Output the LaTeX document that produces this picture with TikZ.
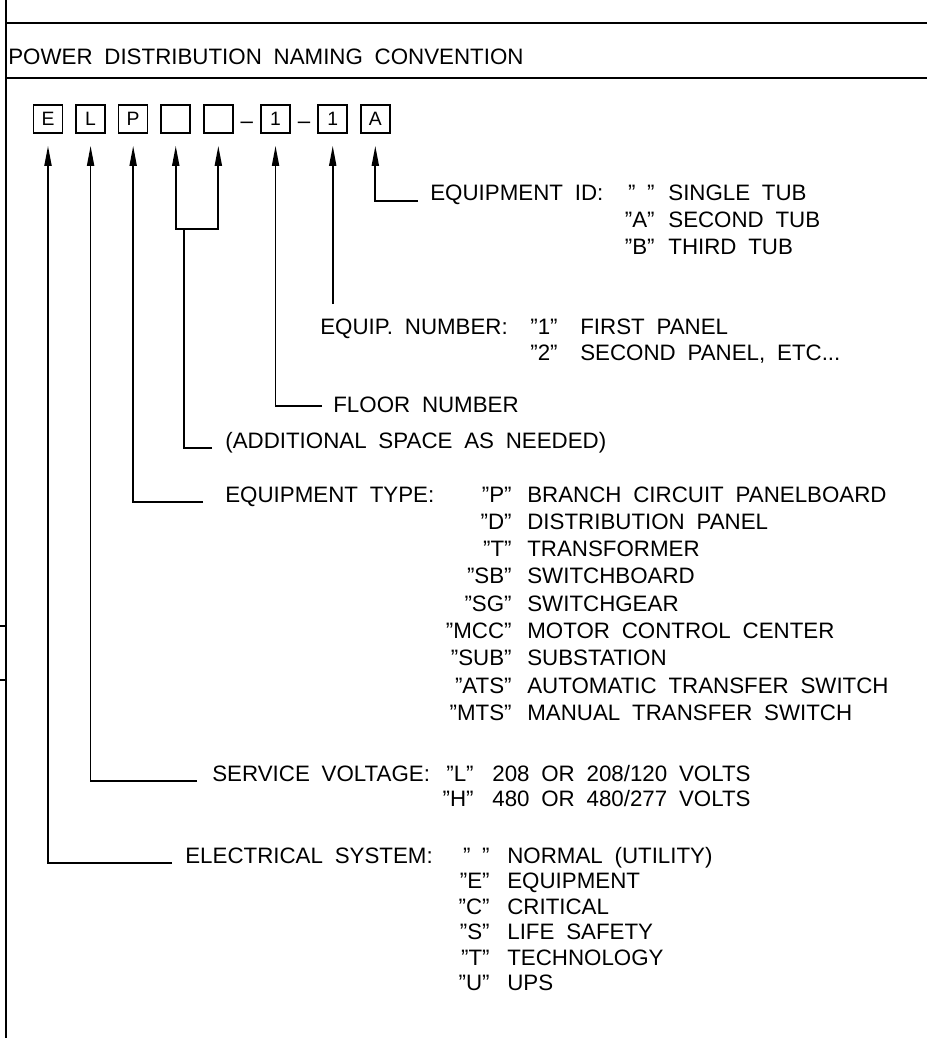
\documentclass[tikz,border=0pt]{standalone}
\usepackage{fontspec}
\setmainfont{Liberation Sans}[WordSpace=1.9]
\usetikzlibrary{positioning, arrows.meta}

\begin{document}
\begin{tikzpicture}[
    x=0.2mm, y=-0.2mm,
    >={Triangle[length=4mm, width=1.4mm]},
    node distance=2.4mm,
    % sheet border lines
    frame/.style={line width=1.3pt},
    % letter boxes of the name
    codebox/.style={rectangle, draw, line width=0.9pt, minimum width=5.8mm, minimum height=5.6mm, inner sep=0pt, font=\fontsize{11}{13}\selectfont},
    % dash between boxes
    dashnode/.style={inner sep=0pt, yshift=-1.2mm},
    % labels and list entries
    lbl/.style={anchor=base west, inner sep=0pt},
    code/.style={anchor=base east, inner sep=0pt},
    desc/.style={anchor=base west, inner sep=0pt},
    % leader lines
    arr/.style={->, line width=1pt, shorten >=2.4mm},
    lead/.style={line width=1pt},
    every node/.style={font=\fontsize{12.7}{15}\selectfont},
]
\useasboundingbox (0,0) rectangle (927,1038);

% --- sheet border ---
\draw[frame] (6,0) -- (6,1038);
\draw[frame] (6,23) -- (927,23);
\draw[frame] (6,78) -- (927,78);
\draw[frame] (0,626) -- (6,626);
\draw[frame] (0,680) -- (6,680);

\node[lbl] (title) at (8,65) {POWER DISTRIBUTION NAMING CONVENTION};

% --- name boxes ---
\node[codebox] (bE) at (48,119) {E};
\node[codebox, right=of bE] (bL) {L};
\node[codebox, right=of bL] (bP) {P};
\node[codebox, right=of bP] (bX) {};
\node[codebox, right=of bX] (bY) {};
\node[dashnode, right=1.35mm of bY] (d1) {–};
\node[codebox, right=1.35mm of bY.east -| d1.east] (bF) {1};
\node[dashnode, right=1.35mm of bF] (d2) {–};
\node[codebox, right=1.35mm of bF.east -| d2.east] (bN) {1};
\node[codebox, right=of bN] (bA) {A};

% --- labels ---
\node[lbl] (eid) at (430,201) {EQUIPMENT ID:};
\node[lbl] (enum) at (320,334) {EQUIP. NUMBER:};
\node[lbl] (floor) at (333,412) {FLOOR NUMBER};
\node[lbl] (addl) at (225,448) {(ADDITIONAL SPACE AS NEEDED)};
\node[lbl] (etype) at (225,502) {EQUIPMENT TYPE:};
\node[lbl] (svolt) at (212,781) {SERVICE VOLTAGE:};
\node[lbl] (esys) at (185,863) {ELECTRICAL SYSTEM:};

% --- code lists ---
\foreach \c/\d [count=\i] in {{” ”}/SINGLE TUB, ”A”/SECOND TUB, ”B”/THIRD TUB}{
    \node[code] (eidc\i) at (655,{201+27*(\i-1)}) {\c};
    \node[desc] (eidd\i) at (668,{201+27*(\i-1)}) {\d};
}
\foreach \c/\d [count=\i] in {”1”/FIRST PANEL, ”2”/{SECOND PANEL, ETC...}}{
    \node[code] (enumc\i) at (558,{334+26*(\i-1)}) {\c};
    \node[desc] (enumd\i) at (580,{334+26*(\i-1)}) {\d};
}
\foreach \c/\d [count=\i] in {”P”/BRANCH CIRCUIT PANELBOARD, ”D”/DISTRIBUTION PANEL,
    ”T”/TRANSFORMER, ”SB”/SWITCHBOARD, ”SG”/SWITCHGEAR, ”MCC”/MOTOR CONTROL CENTER,
    ”SUB”/SUBSTATION, ”ATS”/AUTOMATIC TRANSFER SWITCH, ”MTS”/MANUAL TRANSFER SWITCH}{
    \node[code] (etypec\i) at (512,{502+27.3*(\i-1)}) {\c};
    \node[desc] (etyped\i) at (527,{502+27.3*(\i-1)}) {\d};
}
\foreach \c/\d [count=\i] in {”L”/{208 OR 208/120 VOLTS}, ”H”/{480 OR 480/277 VOLTS}}{
    \node[code] (svoltc\i) at (474,{781+25*(\i-1)}) {\c};
    \node[desc] (svoltd\i) at (492,{781+25*(\i-1)}) {\d};
}
\foreach \c/\d [count=\i] in {{” ”}/NORMAL (UTILITY), ”E”/EQUIPMENT, ”C”/CRITICAL,
    ”S”/LIFE SAFETY, ”T”/TECHNOLOGY, ”U”/UPS}{
    \node[code] (esysc\i) at (490,{863+25.5*(\i-1)}) {\c};
    \node[desc] (esysd\i) at (507,{863+25.5*(\i-1)}) {\d};
}

% --- leaders ---
\coordinate (brk) at (184,229);
\draw[arr] ([xshift=-2.4mm]eid.base west) -| (bA.south);
\draw[arr] ([yshift=2.8mm]enum.north -| bN.south) -- (bN.south);
\draw[arr] ([xshift=-2.2mm, yshift=1.2mm]floor.base west) -| (bF.south);
\draw[arr] (brk) -| (bX.south);
\draw[arr] (brk) -| (bY.south);
\draw[lead] ([xshift=-2.6mm]addl.base west) -| (brk);
\draw[arr] ([xshift=-4.4mm]etype.base west) -| (bP.south);
\draw[arr] ([xshift=-3mm]svolt.base west) -| (bL.south);
\draw[arr] ([xshift=-2.6mm]esys.base west) -| (bE.south);

\end{tikzpicture}
\end{document}
